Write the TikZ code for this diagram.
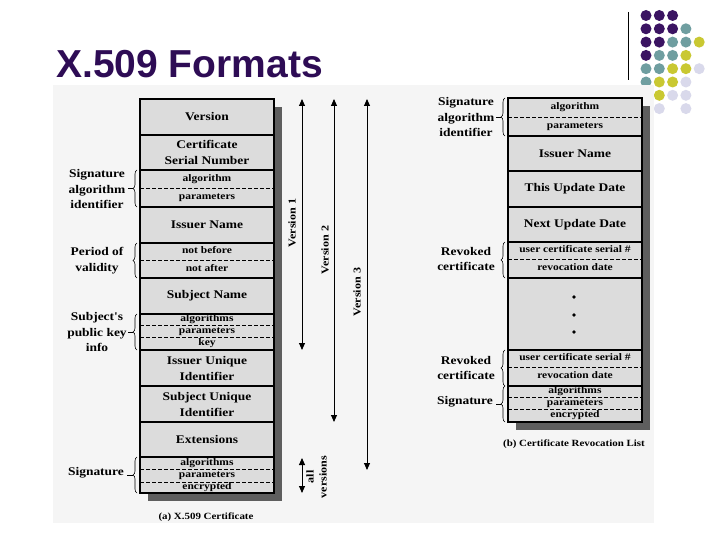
\documentclass[tikz,border=0pt]{standalone}
\usepackage{fontspec}
\setmainfont{Liberation Serif}
\newfontfamily\figfont[FakeStretch=1.15]{Liberation Serif}
\newfontfamily\titlefont{Liberation Sans}
\usetikzlibrary{arrows.meta,decorations.pathreplacing}
\definecolor{boxgray}{HTML}{DCDCDC}
\definecolor{shadowgray}{HTML}{5E5E5E}
\definecolor{panelbg}{HTML}{F5F5F5}
\definecolor{titlepurple}{HTML}{2E0C55}
\definecolor{dpurple}{HTML}{3B1462}
\definecolor{dteal}{HTML}{6F9EA0}
\definecolor{dyellow}{HTML}{C9C832}
\definecolor{dlav}{HTML}{D9D9EB}
\tikzset{
 bigtxt/.style={font=\figfont\bfseries\fontsize{11.7}{16}\selectfont},
 field/.style={draw, line width=1.3pt, fill=boxgray, minimum width=134pt, inner sep=0pt, outer sep=0pt, align=center, bigtxt},
 subrow/.style={fill=boxgray, minimum width=134pt, inner sep=0pt, outer sep=0pt, text height=6.8pt, text depth=2pt, font=\figfont\bfseries\fontsize{10}{11}\selectfont},
 frame/.style={draw, line width=1.3pt},
 sepline/.style={dash pattern=on 3.5pt off 2.5pt, line width=0.6pt},
 sidelbl/.style={align=center, inner sep=0pt, font=\figfont\bfseries\fontsize{11.7}{15.5}\selectfont},
 brc/.style={decorate, decoration={brace, amplitude=4pt}, line width=0.6pt},
 verarr/.style={{Triangle[width=6pt,length=7pt]}-{Triangle[width=6pt,length=7pt]}, line width=0.9pt},
 verlbl/.style={rotate=90, inner sep=0pt, align=center, font=\figfont\bfseries\fontsize{10.5}{13}\selectfont},
 captxt/.style={inner sep=0pt, font=\figfont\bfseries\fontsize{9.5}{11}\selectfont},
 tdot/.style={circle, minimum size=11pt, inner sep=0pt},
 smalldot/.style={circle, fill=black, minimum size=3.6pt, inner sep=0pt}
}
\begin{document}
\begin{tikzpicture}[x=1pt,y=-1pt]
\useasboundingbox (0,0) rectangle (720,540);
\fill[white] (0,0) rectangle (720,540);

% decorative dots
\foreach \r/\c/\col in {0/0/dpurple,0/1/dpurple,0/2/dpurple,
  1/0/dpurple,1/1/dpurple,1/2/dpurple,1/3/dteal,
  2/0/dpurple,2/1/dpurple,2/2/dteal,2/3/dteal,2/4/dyellow,
  3/0/dpurple,3/1/dteal,3/2/dteal,3/3/dyellow,
  4/0/dteal,4/1/dteal,4/2/dyellow,4/3/dyellow,4/4/dlav,
  5/0/dteal,5/1/dyellow,5/2/dyellow,5/3/dlav,
  6/1/dyellow,6/2/dlav,6/3/dlav,
  7/1/dlav,7/3/dlav}
  \node[tdot, fill=\col] (d\r\c) at (646+13.3*\c, 15.5+13.3*\r) {};

% title and rule
\node[anchor=base west, inner sep=0pt, text=titlepurple, font=\titlefont\bfseries\fontsize{39}{41}\selectfont] (title) at (56,78) {X.509 Formats};
\coordinate (rt) at (628,12);
\coordinate (rb) at (628,80);
\draw[line width=0.8pt] (rt) -- (rb);

% panel background
\fill[panelbg] (53,85) rectangle (654,523);

% ================= left: certificate =================
\fill[shadowgray] (148,107) rectangle (282,501);
\node[field, minimum height=36pt] (ver) at (207,117) {Version};
\node[field, minimum height=35pt] (csn) at (207,152.5) {Certificate\\Serial Number};
\node[subrow, minimum height=18pt] (sa1) at (207,179) {algorithm};
\node[subrow, minimum height=19pt] (sa2) at (207,197.5) {parameters};
\node[field, minimum height=36pt] (iss) at (207,225) {Issuer Name};
\node[subrow, minimum height=17pt] (pv1) at (207,251.5) {not before};
\node[subrow, minimum height=18pt] (pv2) at (207,269) {not after};
\node[field, minimum height=36pt] (subj) at (207,296) {Subject Name};
\node[subrow, minimum height=11pt] (pk1) at (207,319.5) {algorithms};
\node[subrow, minimum height=12pt] (pk2) at (207,331) {parameters};
\node[subrow, minimum height=13pt] (pk3) at (207,343.5) {key};
\node[field, minimum height=36pt] (iu) at (207,368) {Issuer Unique\\Identifier};
\node[field, minimum height=36pt] (su) at (207,404) {Subject Unique\\Identifier};
\node[field, minimum height=35pt] (ext) at (207,439.5) {Extensions};
\node[subrow, minimum height=12pt] (sg1) at (207,463) {algorithms};
\node[subrow, minimum height=13pt] (sg2) at (207,475.5) {parameters};
\node[subrow, minimum height=11pt] (sg3) at (207,487.5) {encrypted};

\draw[sepline] (sa1.south west) -- (sa1.south east);
\draw[sepline] (pv1.south west) -- (pv1.south east);
\draw[sepline] (pk1.south west) -- (pk1.south east);
\draw[sepline] (pk2.south west) -- (pk2.south east);
\draw[sepline] (sg1.south west) -- (sg1.south east);
\draw[sepline] (sg2.south west) -- (sg2.south east);
\draw[frame] (sa1.north west) rectangle (sa2.south east);
\draw[frame] (pv1.north west) rectangle (pv2.south east);
\draw[frame] (pk1.north west) rectangle (pk3.south east);
\draw[frame] (sg1.north west) rectangle (sg3.south east);
\draw[frame] (ver.north west) rectangle (sg3.south east);

% left labels and braces
\node[sidelbl] (lsig) at (97,189) {Signature\\algorithm\\identifier};
\draw[brc] ([xshift=-3pt]sa2.south west) -- ([xshift=-3pt]sa1.north west);
\coordinate (tA) at (133,188.5);
\draw[line width=0.6pt] (tA) -- ++(-5,0);

\node[sidelbl] (lper) at (97,260.5) {Period of\\validity};
\draw[brc] ([xshift=-3pt]pv2.south west) -- ([xshift=-3pt]pv1.north west);

\node[sidelbl] (lpk) at (97,332) {Subject's\\public key\\info};
\draw[brc] ([xshift=-3pt]pk3.south west) -- ([xshift=-3pt]pk1.north west);
\coordinate (tB) at (133,332);
\draw[line width=0.6pt] (tB) -- ++(-5,0);

\node[sidelbl] (lsg) at (96,473) {Signature};
\draw[brc] ([xshift=-3pt]sg3.south west) -- ([xshift=-3pt]sg1.north west);
\coordinate (tC) at (133,475);
\draw[line width=0.6pt] (tC) -- ++(-6,0);

% version arrows
\coordinate (v1t) at (302,99);  \coordinate (v1b) at (302,350);
\coordinate (v2t) at (334,99);  \coordinate (v2b) at (334,422);
\coordinate (v3t) at (367,99);  \coordinate (v3b) at (367,470);
\coordinate (avt) at (302,458); \coordinate (avb) at (302,493);
\draw[verarr] (v1t) -- (v1b);
\draw[verarr] (v2t) -- (v2b);
\draw[verarr] (v3t) -- (v3b);
\draw[verarr] (avt) -- (avb);
\node[verlbl] (lv1) at (292,223) {Version 1};
\node[verlbl] (lv2) at (325,250) {Version 2};
\node[verlbl] (lv3) at (357,292) {Version 3};
\node[verlbl] (lav) at (316.5,477) {all\\versions};

\node[captxt] (capa) at (206,517) {(a) X.509 Certificate};

% ================= right: CRL =================
\fill[shadowgray] (516,106) rectangle (650,430);
\node[subrow, minimum height=19pt] (ra1) at (575,107.5) {algorithm};
\node[subrow, minimum height=19pt] (ra2) at (575,126.5) {parameters};
\node[field, minimum height=35pt] (riss) at (575,153.5) {Issuer Name};
\node[field, minimum height=36pt] (rthis) at (575,189) {This Update Date};
\node[field, minimum height=35pt] (rnext) at (575,224.5) {Next Update Date};
\node[subrow, minimum height=17pt] (rc1) at (575,250.5) {user certificate serial \#};
\node[subrow, minimum height=19pt] (rc2) at (575,268.5) {revocation date};
\node[field, minimum height=72pt] (rdots) at (575,314) {};
\node[smalldot] (p1) at (574,297) {};
\node[smalldot] (p2) at (574,315) {};
\node[smalldot] (p3) at (574,332) {};
\node[subrow, minimum height=17pt] (rd1) at (575,358.5) {user certificate serial \#};
\node[subrow, minimum height=19pt] (rd2) at (575,376.5) {revocation date};
\node[subrow, minimum height=11pt] (rs1) at (575,391.5) {algorithms};
\node[subrow, minimum height=12pt] (rs2) at (575,403) {parameters};
\node[subrow, minimum height=13pt] (rs3) at (575,415.5) {encrypted};

\draw[sepline] (ra1.south west) -- (ra1.south east);
\draw[sepline] (rc1.south west) -- (rc1.south east);
\draw[sepline] (rd1.south west) -- (rd1.south east);
\draw[sepline] (rs1.south west) -- (rs1.south east);
\draw[sepline] (rs2.south west) -- (rs2.south east);
\draw[frame] (ra1.north west) rectangle (ra2.south east);
\draw[frame] (rc1.north west) rectangle (rc2.south east);
\draw[frame] (rd1.north west) rectangle (rd2.south east);
\draw[frame] (rs1.north west) rectangle (rs3.south east);
\draw[frame] (ra1.north west) rectangle (rs3.south east);

% right labels and braces
\node[sidelbl] (rlsig) at (466,117) {Signature\\algorithm\\identifier};
\draw[brc] ([xshift=-3pt]ra2.south west) -- ([xshift=-3pt]ra1.north west);
\coordinate (tD) at (501,117);
\draw[line width=0.6pt] (tD) -- ++(-5,0);

\node[sidelbl] (rlrev1) at (466,259) {Revoked\\certificate};
\draw[brc] ([xshift=-3pt]rc2.south west) -- ([xshift=-3pt]rc1.north west);

\node[sidelbl] (rlrev2) at (466,368) {Revoked\\certificate};
\draw[brc] ([xshift=-3pt]rd2.south west) -- ([xshift=-3pt]rd1.north west);

\node[sidelbl] (rlsg) at (465,402) {Signature};
\draw[brc] ([xshift=-3pt]rs3.south west) -- ([xshift=-3pt]rs1.north west);
\coordinate (tE) at (501,404);
\draw[line width=0.6pt] (tE) -- ++(-5,0);

\node[captxt] (capb) at (574,444) {(b) Certificate Revocation List};
\end{tikzpicture}
\end{document}
